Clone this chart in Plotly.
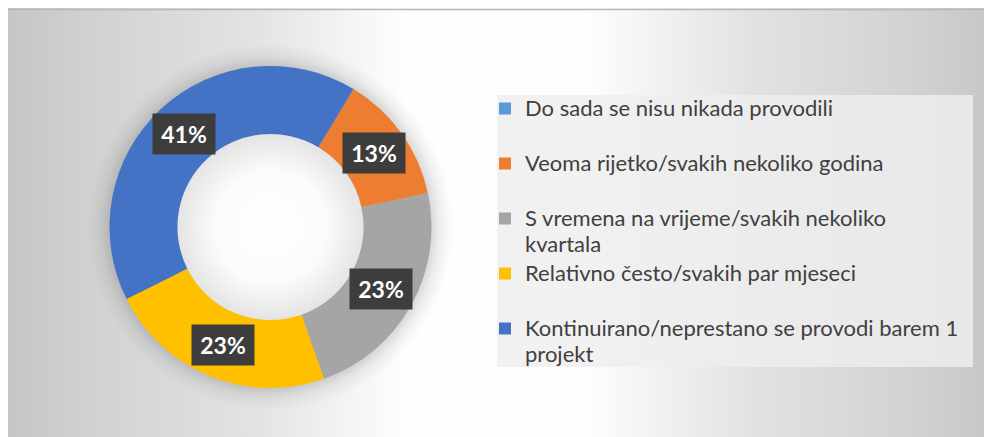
import base64
import math
import plotly.graph_objects as go

kategorije = [
    "Do sada se nisu nikada provodili",
    "Veoma rijetko/svakih nekoliko godina",
    "S vremena na vrijeme/svakih nekoliko<br>kvartala",
    "Relativno često/svakih par mjeseci",
    "Kontinuirano/neprestano se provodi barem 1<br>projekt",
]
vrijednosti = [0, 13, 23, 23, 41]
boje = ["#5B9BD5", "#ED7D31", "#A5A5A5", "#FFC000", "#4472C4"]

W, H = 992, 437
ROTACIJA = 31
RUPA = 0.578

# krug u pikselima
cx, cy, r = 262.5, 219, 161
dom_x = [(cx - r) / W, (cx + r) / W]
dom_y = [1 - (cy + r) / H, 1 - (cy - r) / H]

# jednolinijske stavke dobivaju prazan red da razmak bude jednak
legenda = []
for k in kategorije:
    redovi = k if "<br>" in k else k + "<br> "
    legenda.append('<span style="font-size:22px">' + redovi.replace("<br>", "</span><br><span style=\"font-size:22px\">") + "</span>")

fig = go.Figure(go.Pie(
    labels=legenda,
    values=vrijednosti,
    marker=dict(colors=boje, line=dict(width=0)),
    hole=RUPA,
    sort=False,
    direction="clockwise",
    rotation=ROTACIJA,
    textinfo="none",
    domain=dict(x=dom_x, y=dom_y),
    hoverinfo="percent",
))

# oznake postotaka na sredini prstena
ukupno = sum(vrijednosti)
r_sred = r * (1 + RUPA) / 2
kum = 0
for v in vrijednosti:
    if v > 0:
        kut = math.radians(ROTACIJA + (kum + v / 2) / ukupno * 360)
        px = cx + r_sred * math.sin(kut)
        py = cy - r_sred * math.cos(kut)
        fig.add_annotation(
            x=px / W, y=1 - py / H, xref="paper", yref="paper",
            xanchor="center", yanchor="middle",
            text=f"{round(v / ukupno * 100)}%",
            showarrow=False,
            font=dict(family="Lato", size=23, color="white", weight="bold"),
            bgcolor="#3d3d3d",
            width=58, height=36, borderpad=2,
        )
    kum += v

svg = (
    '<svg xmlns="http://www.w3.org/2000/svg" width="992" height="437">'
    '<defs><linearGradient id="g" x1="0" y1="0" x2="1" y2="0">'
    '<stop offset="0" stop-color="#c6c6c6"/>'
    '<stop offset="0.09" stop-color="#d2d2d2"/>'
    '<stop offset="0.25" stop-color="#e3e3e3"/>'
    '<stop offset="0.40" stop-color="#fefefe"/>'
    '<stop offset="0.58" stop-color="#fefefe"/>'
    '<stop offset="0.75" stop-color="#e2e2e2"/>'
    '<stop offset="0.90" stop-color="#d3d3d3"/>'
    '<stop offset="1" stop-color="#c6c6c6"/>'
    '</linearGradient></defs>'
    '<rect width="992" height="437" fill="url(#g)"/></svg>'
)
pozadina = "data:image/svg+xml;base64," + base64.b64encode(svg.encode()).decode()

# sjena oko prstena i svijetla rupa
R = r + 22
f_rupa = r * RUPA / R
f_van = r / R
svg_sjena = (
    f'<svg xmlns="http://www.w3.org/2000/svg" width="{2*R}" height="{2*R}">'
    '<defs><radialGradient id="s" cx="0.5" cy="0.5" r="0.5">'
    '<stop offset="0" stop-color="#ffffff" stop-opacity="1"/>'
    f'<stop offset="{f_rupa*0.6:.3f}" stop-color="#fbfbfb" stop-opacity="1"/>'
    f'<stop offset="{f_rupa:.3f}" stop-color="#e4e4e4" stop-opacity="1"/>'
    f'<stop offset="{f_van-0.01:.3f}" stop-color="#000000" stop-opacity="0.16"/>'
    f'<stop offset="{f_van + (1-f_van)*0.4:.3f}" stop-color="#000000" stop-opacity="0.06"/>'
    '<stop offset="1" stop-color="#000000" stop-opacity="0"/>'
    '</radialGradient></defs>'
    f'<circle cx="{R}" cy="{R}" r="{R}" fill="url(#s)"/></svg>'
)
sjena = "data:image/svg+xml;base64," + base64.b64encode(svg_sjena.encode()).decode()

fig.add_layout_image(
    source=pozadina, xref="paper", yref="paper",
    x=0, y=1, sizex=1, sizey=1,
    xanchor="left", yanchor="top", sizing="stretch", layer="below",
)
fig.add_layout_image(
    source=sjena, xref="paper", yref="paper",
    x=cx / W, y=1 - cy / H, sizex=2 * R / W, sizey=2 * R / H,
    xanchor="center", yanchor="middle", sizing="stretch", layer="below",
)

fig.add_shape(type="line", xref="paper", yref="paper",
              x0=0, x1=1, y0=1 - 1.5 / H, y1=1 - 1.5 / H,
              line=dict(color="#b8b8b8", width=1.5))
fig.add_shape(type="rect", xref="paper", yref="paper",
              x0=489 / W, x1=965 / W, y0=1 - 359 / H, y1=1 - 87 / H,
              fillcolor="rgba(238,238,238,0.82)", line=dict(width=0), layer="below")

fig.update_layout(
    width=W, height=H,
    margin=dict(l=0, r=0, t=0, b=0),
    paper_bgcolor="white",
    showlegend=True,
    legend=dict(
        x=477 / W, y=1 - 81 / H, xanchor="left", yanchor="top",
        bgcolor="rgba(0,0,0,0)", valign="top",
        font=dict(family="Lato", size=20, color="#404040"),
    ),
)

fig.write_html("out.html")
